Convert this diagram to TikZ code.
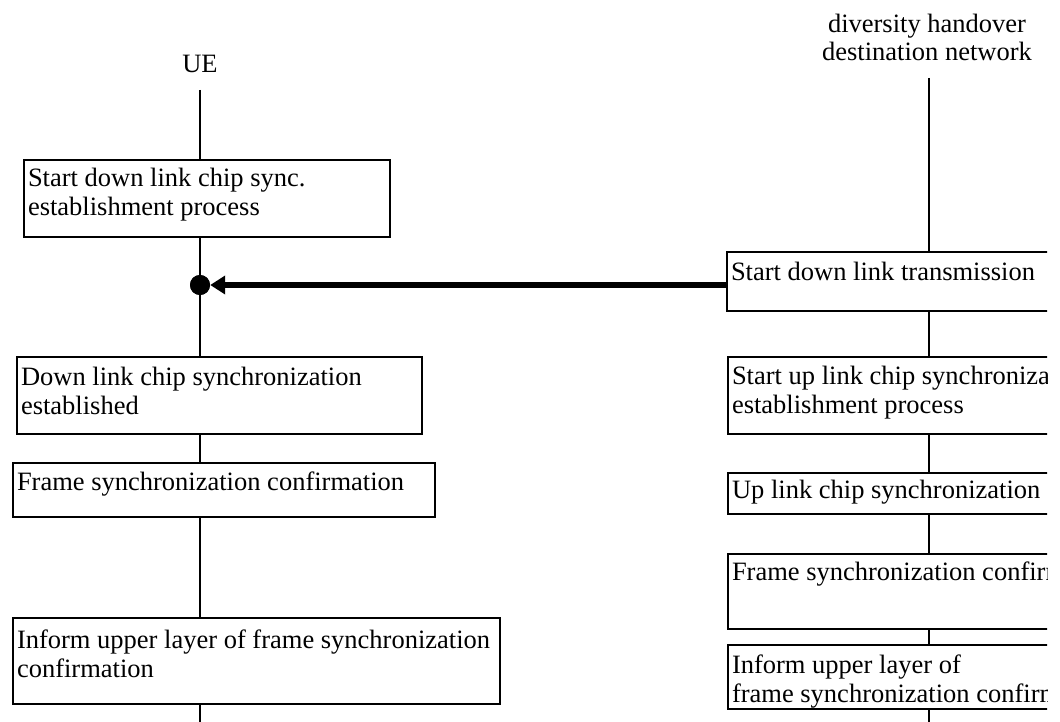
\documentclass[tikz,border=0pt]{standalone}
\usepackage{fontspec}
\setmainfont{Liberation Serif}
\usetikzlibrary{arrows.meta}
\newcommand{\bxtext}[4]{\parbox[c][#2][t]{#1}{\raggedright\rule{0pt}{#3}#4}}
\tikzset{
  every node/.style={font=\fontsize{26.5pt}{29pt}\selectfont},
  stepbox/.style={draw, line width=1.8pt, anchor=north west, inner xsep=4pt, inner ysep=0pt, outer sep=0pt},
  life/.style={line width=2pt},
  msg/.style={line width=6pt, -{Triangle[length=15pt,width=18pt]}},
  lbl/.style={inner sep=0pt},
  joint/.style={circle, fill=black, minimum size=20pt, inner sep=0pt}
}
\begin{document}
\begin{tikzpicture}[x=1pt,y=-1pt]
\useasboundingbox (0,0) rectangle (1060,722);
% UE side
\node[lbl, anchor=base] (ue) at (200,73) {UE};
\coordinate (uetop) at (200,90);
\coordinate (uebot) at (200,722);
\node[stepbox] (l1) at (24,160) {\bxtext{358pt}{77pt}{27pt}{Start down link chip sync.\\establishment process}};
\node[stepbox] (l2) at (17,357) {\bxtext{397pt}{77pt}{28pt}{Down link chip synchronization\\established}};
\node[stepbox] (l3) at (13,463) {\bxtext{414pt}{54pt}{27pt}{Frame synchronization confirmation}};
\node[stepbox] (l4) at (13,618) {\bxtext{479pt}{86pt}{30pt}{Inform upper layer of frame synchronization\\confirmation}};
\node[joint] (dot) at (200,285) {};
\draw[life] (uetop) -- (l1.north -| uetop);
\draw[life] (l1.south -| uetop) -- (dot.center);
\draw[life] (dot.center) -- (l2.north -| uetop);
\draw[life] (l2.south -| uetop) -- (l3.north -| uetop);
\draw[life] (l3.south -| uetop) -- (l4.north -| uetop);
\draw[life] (l4.south -| uetop) -- (uebot);
% network side
\node[lbl, align=center, anchor=north, font=\fontsize{26.5pt}{28pt}\selectfont] (dest) at (927,14) {diversity handover\\destination network};
\begin{scope}
\clip (0,0) rectangle (1047,722);
\coordinate (dtop) at (929,78);
\coordinate (dbot) at (929,722);
\node[stepbox] (r1) at (727,252) {\bxtext{600pt}{59pt}{28pt}{Start down link transmission}};
\node[stepbox] (r2) at (728,357) {\bxtext{600pt}{77pt}{27pt}{Start up link chip synchronization\\establishment process}};
\node[stepbox] (r3) at (728,473) {\bxtext{600pt}{41pt}{25pt}{Up link chip synchronization established}};
\node[stepbox] (r4) at (728,554) {\bxtext{600pt}{75pt}{26pt}{Frame synchronization confirmation}};
\node[stepbox] (r5) at (728,645) {\bxtext{600pt}{64pt}{28pt}{Inform upper layer of\\frame synchronization confirmation}};
\draw[life] (dtop) -- (r1.north -| dtop);
\draw[life] (r1.south -| dtop) -- (r2.north -| dtop);
\draw[life] (r2.south -| dtop) -- (r3.north -| dtop);
\draw[life] (r3.south -| dtop) -- (r4.north -| dtop);
\draw[life] (r4.south -| dtop) -- (r5.north -| dtop);
\draw[life] (r5.south -| dtop) -- (dbot);
\end{scope}
\draw[msg] (dot -| r1.west) -- (dot.east);
\node[joint] at (dot) {};
\end{tikzpicture}
\end{document}
